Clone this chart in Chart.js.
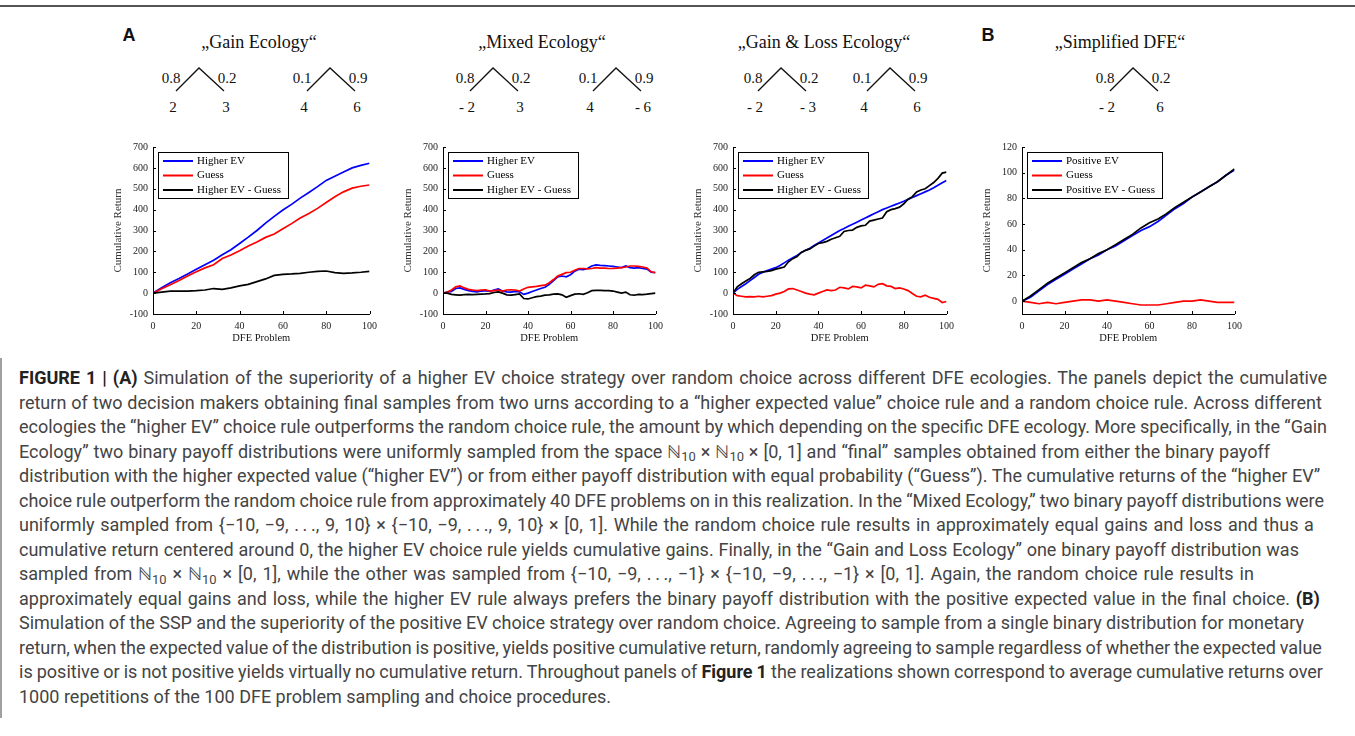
<!DOCTYPE html>
<html>
<head>
<meta charset="utf-8">
<script src="https://cdn.jsdelivr.net/npm/chart.js@4.4.1/dist/chart.umd.min.js"></script>
<style>
  html, body { margin: 0; padding: 0; background: #fff; }
  #page { position: relative; width: 1355px; height: 736px; overflow: hidden; }
  .rule { position: absolute; left: 0; top: 5px; width: 1355px; height: 2px; background: #555; }
  .lbl { position: absolute; transform: translate(-50%, -50%); white-space: nowrap;
         font-family: "Liberation Serif", "Times New Roman", serif; color: #111; }
  .ttl { font-size: 18px; }
  .num { font-size: 15px; }
  .tag { position: absolute; transform: translate(-50%, -50%);
         font-family: "Liberation Sans", Arial, sans-serif; font-weight: bold; font-size: 18px; color: #111; }
  canvas { position: absolute; }
  svg.trees { position: absolute; left: 0; top: 0; }
  #caption { position: absolute; left: 0; top: 358px; width: 1353px; height: 360px;
             border-left: 2px solid #a0a0a0; }
  #caption div { position: absolute; left: 17px; white-space: nowrap; line-height: 22px;
                 font-family: Roboto, "Liberation Sans", sans-serif; font-size: 18px; color: #444; }
  #caption b { color: #222; }
  #caption sub { font-size: 0.72em; vertical-align: baseline; position: relative; top: 0.3em; line-height: 0; }
</style>
</head>
<body>
<div id="page">
  <div class="rule"></div>
  <svg class="trees" id="trees" width="1355" height="130"></svg>
  <div id="caption"></div>
</div>
<script>
// x positions (DFE problem number)
const problemsCoarse = [0, 4, 8, 12, 16, 20, 24, 28, 32, 36, 40, 44, 48, 52, 56, 60, 64, 68, 72, 76, 80, 84, 88, 92, 96, 100];
const problemsFine = [0, 2, 4, 6, 8, 10, 12, 14, 16, 18, 20, 22, 24, 26, 28, 30, 32, 34, 36, 38, 40, 42, 44, 46, 48,
  50, 52, 54, 56, 58, 60, 62, 64, 66, 68, 70, 72, 74, 76, 78, 80, 82, 84, 86, 88, 90, 92, 94, 96, 98, 100];

// "Gain Ecology"
const gainHigher = [0, 26, 50, 70, 92, 114, 136, 158, 184, 208, 238, 268, 300, 335, 368, 398, 425, 455, 482, 510, 540, 560, 580, 600, 612, 622];
const gainGuess = [0, 21, 40, 60, 82, 102, 121, 136, 166, 183, 203, 226, 245, 267, 283, 308, 333, 360, 382, 406, 434, 462, 485, 503, 512, 518];
const gainDiff = [0, 5, 10, 10, 10, 12, 15, 22, 18, 25, 35, 42, 55, 68, 85, 90, 92, 95, 100, 104, 106, 98, 95, 97, 100, 104];

// "Mixed Ecology"
const mixedHigher = [0, 5, 8, 22, 25, 18, 12, 8, 6, 10, 12, 8, 15, 20, 10, 6, 5, 8, 6, -6, 0, 8, 15, 22, 28,
  42, 60, 78, 82, 78, 88, 105, 115, 112, 118, 130, 135, 133, 132, 130, 128, 125, 122, 130, 122, 120, 122, 118, 115, 100, 98];
const mixedGuess = [0, 5, 15, 30, 35, 25, 18, 15, 12, 15, 16, 10, 12, 14, 10, 15, 16, 15, 10, 20, 28, 30, 32, 36, 38,
  50, 65, 82, 90, 98, 100, 110, 118, 118, 116, 118, 122, 120, 120, 118, 118, 120, 122, 125, 130, 130, 128, 125, 120, 102, 98];
const mixedDiff = [0, 0, -6, -8, -10, -7, -6, -7, -6, -5, -4, -2, 3, 6, 0, -8, -10, -7, -4, -26, -28, -22, -17, -14, -10,
  -8, -5, -4, -8, -20, -12, -5, -3, -6, 2, 12, 13, 13, 12, 12, 10, 5, 0, 5, -8, -10, -6, -7, -5, -2, 0];

// "Gain & Loss Ecology"
const glHigher = [0, 18, 32, 45, 60, 75, 90, 100, 108, 115, 122, 132, 145, 158, 170, 180, 195, 205, 215, 228, 240, 252, 264, 276, 288,
  300, 310, 320, 330, 340, 350, 360, 370, 380, 390, 400, 408, 416, 424, 432, 440, 449, 458, 467, 476, 485, 494, 505, 517, 529, 540];
const glGuess = [0, -12, -15, -18, -17, -18, -15, -18, -15, -12, -5, 0, 8, 20, 22, 15, 8, 0, -5, -8, 0, 8, 15, 12, 15,
  28, 25, 20, 32, 30, 25, 38, 35, 30, 42, 45, 35, 32, 22, 25, 20, 12, -2, -15, -18, -10, -20, -25, -30, -45, -40];
const glDiff = [0, 30, 45, 58, 70, 88, 100, 102, 104, 108, 115, 120, 125, 150, 165, 175, 195, 205, 212, 225, 238, 242, 248, 258, 265,
  272, 295, 300, 302, 315, 322, 325, 345, 350, 355, 360, 390, 400, 405, 412, 428, 450, 462, 485, 494, 500, 515, 530, 550, 575, 580];

// "Simplified DFE"
const simpPositive = [0, 3, 8, 13, 17, 21, 25, 29, 33, 36, 40, 43, 47, 51, 55, 58, 62, 67, 72, 76, 81, 85, 89, 93, 98, 102];
const simpGuess = [0, -1, -2, -1, -2, -1, 0, 1, 1, 0, 1, 0, -1, -2, -3, -3, -3, -2, -1, 0, 0, 1, 0, -1, -1, -1];
const simpDiff = [0, 4, 9, 14, 18, 22, 26, 30, 33, 37, 40, 44, 48, 52, 57, 61, 64, 68, 73, 77, 81, 85, 89, 93, 98, 103];

// tick labels
const returnTicks = [-100, 0, 100, 200, 300, 400, 500, 600, 700];
const simplifiedTicks = [0, 20, 40, 60, 80, 100, 120];
const problemTicks = [0, 20, 40, 60, 80, 100];

const ecologyLabels = ['Higher EV', 'Guess', 'Higher EV - Guess'];
const simplifiedLabels = ['Positive EV', 'Guess', 'Positive EV - Guess'];
const lineColors = ['#0000ff', '#ff0000', '#000000'];

const SERIF = '"Liberation Serif", "Times New Roman", serif';

// MATLAB-like inward tick marks
const innerTicks = {
  id: 'innerTicks',
  afterDatasetsDraw(chart) {
    const { ctx, chartArea, scales } = chart;
    ctx.save();
    ctx.strokeStyle = '#000';
    ctx.lineWidth = 1;
    scales.y.ticks.forEach(t => {
      const y = Math.round(scales.y.getPixelForValue(t.value)) + 0.5;
      ctx.beginPath(); ctx.moveTo(chartArea.left, y); ctx.lineTo(chartArea.left + 3, y); ctx.stroke();
    });
    scales.x.ticks.forEach(t => {
      const x = Math.round(scales.x.getPixelForValue(t.value)) + 0.5;
      ctx.beginPath(); ctx.moveTo(x, chartArea.bottom); ctx.lineTo(x, chartArea.bottom - 3); ctx.stroke();
    });
    ctx.restore();
  }
};

// boxed legend in the upper left corner of the plot
const boxLegend = {
  id: 'boxLegend',
  afterDraw(chart) {
    const { ctx, chartArea } = chart;
    const sets = chart.data.datasets;
    ctx.save();
    ctx.font = '11px ' + SERIF;
    const tw = Math.max(...sets.map(d => ctx.measureText(d.label).width));
    const x0 = Math.round(chartArea.left) + 5, y0 = Math.round(chartArea.top) + 5;
    const w = Math.round(40 + tw + 6), h = 46;
    ctx.fillStyle = '#fff';
    ctx.fillRect(x0, y0, w, h);
    ctx.strokeStyle = '#000';
    ctx.lineWidth = 1;
    ctx.strokeRect(x0 + 0.5, y0 + 0.5, w, h);
    sets.forEach((d, i) => {
      const y = y0 + 9 + i * 14.5;
      ctx.strokeStyle = d.borderColor;
      ctx.lineWidth = 2;
      ctx.beginPath(); ctx.moveTo(x0 + 5, y); ctx.lineTo(x0 + 35, y); ctx.stroke();
      ctx.fillStyle = '#000';
      ctx.textBaseline = 'middle';
      ctx.fillText(d.label, x0 + 39, y);
    });
    ctx.restore();
  }
};

function drawPanel(axisX, plotRight, xs, series, labels, yMin, yMax, yTicks) {
  const yW = 43, xH = 33, padTop = 8, padRight = 8;
  const top = 144, bottom = 314;
  const cv = document.createElement('canvas');
  cv.width = yW + (plotRight - axisX) + padRight;
  cv.height = padTop + (bottom - top) + xH;
  cv.style.left = (axisX - yW) + 'px';
  cv.style.top = (top - padTop) + 'px';
  document.getElementById('page').appendChild(cv);

  new Chart(cv, {
    type: 'line',
    data: {
      datasets: series.map((vals, i) => ({
        label: labels[i],
        data: xs.map((x, j) => ({ x: x, y: vals[j] })),
        borderColor: lineColors[i],
        borderWidth: 1.7,
        pointRadius: 0,
        tension: 0,
        order: 3 - i
      }))
    },
    options: {
      responsive: false,
      animation: false,
      devicePixelRatio: 1,
      layout: { padding: { top: padTop, right: padRight, left: 0, bottom: 0 } },
      plugins: { legend: { display: false }, tooltip: { enabled: false } },
      scales: {
        x: {
          type: 'linear', min: 0, max: 100,
          afterBuildTicks: s => { s.ticks = problemTicks.map(v => ({ value: v })); },
          afterFit: s => { s.height = xH; },
          grid: { display: false, drawTicks: false },
          border: { display: true, color: '#000', width: 1 },
          ticks: { font: { family: SERIF, size: 10 }, color: '#222', padding: 6, maxRotation: 0 },
          title: { display: true, text: 'DFE Problem', font: { family: SERIF, size: 10.5 }, color: '#111',
                   padding: { top: 0, bottom: 2 } }
        },
        y: {
          min: yMin, max: yMax,
          afterBuildTicks: s => { s.ticks = yTicks.map(v => ({ value: v })); },
          afterFit: s => { s.width = yW; },
          grid: { display: false, drawTicks: false },
          border: { display: true, color: '#000', width: 1 },
          ticks: { font: { family: SERIF, size: 10 }, color: '#222', padding: 5 },
          title: { display: true, text: 'Cumulative Return', font: { family: SERIF, size: 11 }, color: '#333',
                   padding: { top: 2, bottom: 0 } }
        }
      }
    },
    plugins: [innerTicks, boxLegend]
  });
}

drawPanel(153, 375, problemsCoarse, [gainHigher, gainGuess, gainDiff], ecologyLabels, -100, 700, returnTicks);
drawPanel(443, 661, problemsFine, [mixedHigher, mixedGuess, mixedDiff], ecologyLabels, -100, 700, returnTicks);
drawPanel(733, 952, problemsFine, [glHigher, glGuess, glDiff], ecologyLabels, -100, 700, returnTicks);
drawPanel(1022, 1240, problemsCoarse, [simpPositive, simpGuess, simpDiff], simplifiedLabels, -10, 120, simplifiedTicks);

// headings and payoff trees
const page = document.getElementById('page');
function place(cls, text, x, y) {
  const d = document.createElement('div');
  d.className = cls;
  d.textContent = text;
  d.style.left = x + 'px';
  d.style.top = y + 'px';
  page.appendChild(d);
}
place('tag', 'A', 129, 35);
place('tag', 'B', 988, 35);
place('lbl ttl', '\u201EGain Ecology\u201C', 259, 42);
place('lbl ttl', '\u201EMixed Ecology\u201C', 542, 42);
place('lbl ttl', '\u201EGain & Loss Ecology\u201C', 824, 42);
place('lbl ttl', '\u201ESimplified DFE\u201C', 1120, 42);

const trees = [
  [199, '0.8', '0.2', '2', '3'], [330, '0.1', '0.9', '4', '6'],
  [493, '0.8', '0.2', '- 2', '3'], [616, '0.1', '0.9', '4', '- 6'],
  [781, '0.8', '0.2', '- 2', '- 3'], [890, '0.1', '0.9', '4', '6'],
  [1133, '0.8', '0.2', '- 2', '6']
];
const svg = document.getElementById('trees');
trees.forEach(([ax, pl, pr, ll, lr]) => {
  const pl2 = document.createElementNS('http://www.w3.org/2000/svg', 'polyline');
  pl2.setAttribute('points', `${ax - 23},91 ${ax},68 ${ax + 25},91`);
  pl2.setAttribute('fill', 'none');
  pl2.setAttribute('stroke', '#111');
  pl2.setAttribute('stroke-width', '1.3');
  svg.appendChild(pl2);
  place('lbl num', pl, ax - 28, 78);
  place('lbl num', pr, ax + 28, 78);
  place('lbl num', ll, ax - 26, 107);
  place('lbl num', lr, ax + 27, 107);
});

// caption, one entry per printed line; the right edge of each line as in the print
const dots = '.\u2009.\u2009.';
const captionLines = [
  '<b>FIGURE 1 | (A)</b> Simulation of the superiority of a higher EV choice strategy over random choice across different DFE ecologies. The panels depict the cumulative',
  'return of two decision makers obtaining final samples from two urns according to a \u201Chigher expected value\u201D choice rule and a random choice rule. Across different',
  'ecologies the \u201Chigher EV\u201D choice rule outperforms the random choice rule, the amount by which depending on the specific DFE ecology. More specifically, in the \u201CGain',
  'Ecology\u201D two binary payoff distributions were uniformly sampled from the space \u2115<sub>10</sub> \u00D7 \u2115<sub>10</sub> \u00D7 [0, 1] and \u201Cfinal\u201D samples obtained from either the binary payoff',
  'distribution with the higher expected value (\u201Chigher EV\u201D) or from either payoff distribution with equal probability (\u201CGuess\u201D). The cumulative returns of the \u201Chigher EV\u201D',
  'choice rule outperform the random choice rule from approximately 40 DFE problems on in this realization. In the \u201CMixed Ecology,\u201D two binary payoff distributions were',
  `uniformly sampled from {\u221210, \u22129, ${dots}, 9, 10} \u00D7 {\u221210, \u22129, ${dots}, 9, 10} \u00D7 [0, 1]. While the random choice rule results in approximately equal gains and loss and thus a`,
  'cumulative return centered around 0, the higher EV choice rule yields cumulative gains. Finally, in the \u201CGain and Loss Ecology\u201D one binary payoff distribution was',
  `sampled from \u2115<sub>10</sub> \u00D7 \u2115<sub>10</sub> \u00D7 [0, 1], while the other was sampled from {\u221210, \u22129, ${dots}, \u22121} \u00D7 {\u221210, \u22129, ${dots}, \u22121} \u00D7 [0, 1]. Again, the random choice rule results in`,
  'approximately equal gains and loss, while the higher EV rule always prefers the binary payoff distribution with the positive expected value in the final choice. <b>(B)</b>',
  'Simulation of the SSP and the superiority of the positive EV choice strategy over random choice. Agreeing to sample from a single binary distribution for monetary',
  'return, when the expected value of the distribution is positive, yields positive cumulative return, randomly agreeing to sample regardless of whether the expected value',
  'is positive or is not positive yields virtually no cumulative return. Throughout panels of <b>Figure 1</b> the realizations shown correspond to average cumulative returns over',
  '1000 repetitions of the 100 DFE problem sampling and choice procedures.'
];
const lineEnds = [1325, 1320, 1325, 1268, 1318, 1322, 1312, 1297, 1252, 1318, 1302, 1320, 1321, null];
const cap = document.getElementById('caption');
const capDivs = captionLines.map((html, i) => {
  const d = document.createElement('div');
  d.innerHTML = html;
  d.style.top = (20 + i * 24.5 - 11) + 'px';
  cap.appendChild(d);
  return d;
});
function fitCaption() {
  capDivs.forEach((d, i) => {
    if (!lineEnds[i]) return;
    d.style.wordSpacing = '0px';
    const w = d.getBoundingClientRect().width;
    const gaps = (d.textContent.match(/ /g) || []).length;
    d.style.wordSpacing = ((lineEnds[i] - 17 - w) / gaps).toFixed(2) + 'px';
  });
}
fitCaption();
if (document.fonts) document.fonts.ready.then(fitCaption);
</script>
</body>
</html>
